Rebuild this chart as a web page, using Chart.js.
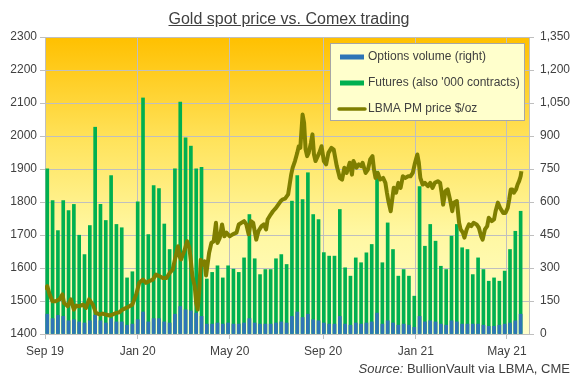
<!DOCTYPE html>
<html>
<head>
<meta charset="utf-8">
<script src="https://cdn.jsdelivr.net/npm/chart.js@4.4.0/dist/chart.umd.min.js"></script>
<style>
  html, body { margin: 0; padding: 0; background: #fff; }
  #wrap { position: relative; width: 578px; height: 385px; font-family: "Liberation Sans", Arial, sans-serif; }
  #chart { position: absolute; left: 0; top: 0; }
  #title { position: absolute; left: 0; top: 10px; width: 578px; line-height: 18px; text-align: center; font-size: 16px; color: #404040; text-decoration: underline; }
  #source { position: absolute; right: 8px; top: 361px; line-height: 15px; font-size: 13px; color: #404040; }
</style>
</head>
<body>
<div id="wrap">
  <canvas id="chart" width="578" height="385"></canvas>
  <div id="title">Gold spot price vs. Comex trading</div>
  <div id="source"><i>Source:</i> BullionVault via LBMA, CME</div>
</div>
<script>
// x axis is days since 1 Sep 2019
const tickDays = [0, 122, 243, 366, 488, 608];
const tickLabels = ['Sep 19', 'Jan 20', 'May 20', 'Sep 20', 'Jan 21', 'May 21'];

// weekly Comex volume, '000 contracts (one bar per week, first week starts 2 Sep 2019)
const futures = [751, 607, 470, 607, 561, 589, 449, 361, 493, 940,
  589, 516, 720, 498, 483, 255, 283, 601, 1073, 452,
  675, 661, 500, 384, 751, 1054, 892, 854, 751, 758,
  250, 280, 310, 255, 310, 295, 280, 346, 543, 342,
  270, 293, 293, 342, 361, 316, 604, 720, 611, 733,
  543, 520, 370, 354, 354, 566, 301, 263, 346, 324,
  369, 407, 740, 324, 505, 384, 263, 293, 263, 172,
  670, 399, 498, 422, 308, 293, 445, 498, 392, 384,
  270, 346, 293, 240, 255, 240, 286, 384, 467, 558];
const options = [90, 70, 85, 80, 60, 65, 55, 50, 60, 85,
  60, 50, 70, 55, 55, 40, 45, 65, 100, 55,
  70, 70, 55, 50, 90, 125, 110, 105, 95, 80,
  45, 45, 50, 45, 50, 45, 45, 50, 70, 50,
  45, 45, 45, 50, 55, 50, 80, 100, 75, 90,
  65, 60, 50, 45, 45, 80, 45, 40, 50, 45,
  50, 55, 95, 45, 60, 50, 40, 45, 40, 30,
  80, 55, 60, 55, 45, 40, 60, 55, 45, 45,
  45, 45, 40, 35, 35, 40, 45, 50, 60, 90];

// LBMA PM gold price, $/oz
const priceDays = [0, 3, 6, 10, 14, 19, 23, 25, 30, 34, 38, 41, 45, 50, 54, 58, 63, 67, 72, 76,
  80, 85, 89, 94, 98, 102, 107, 111, 115, 120, 124, 129, 133, 137, 142, 146, 151, 155, 160, 164,
  168, 173, 175, 177, 179, 184, 187, 190, 192, 194, 197, 199, 201, 203, 205, 208, 210, 212, 216, 219,
  222, 225, 227, 230, 233, 236, 239, 243, 247, 252, 255, 262, 265, 268, 271, 274, 278, 281, 285, 288,
  291, 293, 297, 300, 304, 307, 310, 313, 316, 320, 322, 324, 326, 329, 332, 334, 336, 339, 341, 343,
  345, 347, 350, 352, 354, 356, 359, 361, 364, 367, 370, 373, 377, 380, 384, 388, 391, 394, 397, 401,
  404, 406, 410, 413, 416, 418, 422, 425, 428, 431, 433, 435, 438, 441, 445, 448, 450, 452, 455, 457,
  459, 462, 465, 468, 471, 474, 478, 481, 484, 487, 490, 492, 494, 497, 500, 504, 507, 510, 513, 517,
  520, 522, 524, 527, 530, 533, 536, 538, 542, 545, 547, 550, 552, 555, 558, 561, 564, 568, 571, 574,
  576, 579, 582, 584, 588, 591, 593, 596, 599, 603, 606, 609, 611, 613, 615, 617, 620, 622, 624, 626, 627];
const priceUsd = [1535, 1545, 1520, 1499, 1499, 1505, 1520, 1494, 1484, 1505, 1474, 1486, 1484, 1489, 1479, 1505, 1489, 1464, 1459, 1462,
  1459, 1456, 1459, 1464, 1466, 1474, 1479, 1484, 1489, 1520, 1555, 1565, 1555, 1560, 1565, 1580, 1575, 1570, 1570, 1585,
  1595, 1646, 1666, 1636, 1626, 1656, 1681, 1661, 1621, 1575, 1545, 1494, 1474, 1530, 1625, 1610, 1620, 1577, 1646, 1676,
  1681, 1737, 1676, 1691, 1732, 1696, 1707, 1696, 1702, 1707, 1732, 1742, 1732, 1702, 1742, 1737, 1686, 1712, 1727, 1732,
  1717, 1747, 1762, 1772, 1782, 1792, 1802, 1808, 1810, 1823, 1853, 1883, 1904, 1924, 1949, 1969, 1964, 2065, 2040, 1959,
  1939, 1949, 1979, 2005, 1944, 1924, 1939, 1949, 1969, 1924, 1914, 1949, 1964, 1959, 1909, 1873, 1868, 1904, 1888, 1919,
  1883, 1924, 1904, 1914, 1909, 1919, 1888, 1898, 1929, 1939, 1898, 1873, 1888, 1868, 1873, 1858, 1828, 1802, 1772, 1808,
  1843, 1828, 1858, 1843, 1878, 1873, 1878, 1878, 1888, 1919, 1944, 1919, 1873, 1853, 1858, 1848, 1858, 1843, 1858, 1863,
  1858, 1828, 1792, 1833, 1838, 1808, 1772, 1798, 1803, 1737, 1717, 1707, 1692, 1717, 1732, 1727, 1737, 1732, 1722, 1696,
  1686, 1717, 1727, 1752, 1742, 1747, 1772, 1798, 1782, 1767, 1767, 1782, 1808, 1838, 1838, 1828, 1838, 1853, 1863, 1878, 1893];

const FONT = "'Liberation Sans', Arial, sans-serif";
const TEXT = '#404040';
const GRID = '#BFBFBF';

const weekDays = futures.map((_, i) => 3 + 7 * i);

const plotBackground = {
  id: 'plotBackground',
  beforeDraw(chart) {
    const { ctx, chartArea: a } = chart;
    const g = ctx.createLinearGradient(0, a.top, 0, a.bottom);
    g.addColorStop(0, '#FFC000');
    g.addColorStop(0.35, '#FFE35C');
    g.addColorStop(0.65, '#FFF7A0');
    g.addColorStop(1, '#FFFFCC');
    ctx.save();
    ctx.fillStyle = g;
    ctx.fillRect(a.left, a.top, a.right - a.left, a.bottom - a.top);
    ctx.restore();
  }
};

const boxLegend = {
  id: 'boxLegend',
  afterDraw(chart) {
    const ctx = chart.ctx;
    const ds = chart.data.datasets;
    const items = [ds[1], ds[2], ds[0]];
    ctx.save();
    ctx.fillStyle = '#FFFFCC';
    ctx.strokeStyle = '#A6A6A6';
    ctx.lineWidth = 1;
    ctx.fillRect(330, 43, 194, 77);
    ctx.strokeRect(330.5, 43.5, 194, 77);
    ctx.font = '12px ' + FONT;
    ctx.textBaseline = 'middle';
    items.forEach((d, i) => {
      const y = 57 + i * 26;
      if (d.type === 'line') {
        ctx.strokeStyle = d.borderColor;
        ctx.lineWidth = 3.5;
        ctx.lineCap = 'round';
        ctx.beginPath();
        ctx.moveTo(339, y);
        ctx.lineTo(365, y);
        ctx.stroke();
      } else {
        ctx.fillStyle = d.backgroundColor;
        ctx.fillRect(340, y - 2.5, 24, 5);
      }
      ctx.fillStyle = TEXT;
      ctx.fillText(d.label, 368, y);
    });
    ctx.restore();
  }
};

const tickFont = { family: FONT, size: 12 };

new Chart(document.getElementById('chart'), {
  type: 'bar',
  data: {
    datasets: [
      {
        type: 'line',
        label: 'LBMA PM price $/oz',
        data: priceDays.map((d, i) => ({ x: d, y: priceUsd[i] })),
        yAxisID: 'yPrice',
        borderColor: '#7F7F00',
        borderWidth: 4,
        borderJoinStyle: 'round',
        pointRadius: 0,
        tension: 0,
        order: 0
      },
      {
        label: 'Options volume (right)',
        data: weekDays.map((d, i) => ({ x: d, y: options[i] })),
        yAxisID: 'yVol',
        backgroundColor: '#2E75B6',
        barThickness: 3,
        grouped: false,
        order: 1
      },
      {
        label: "Futures (also '000 contracts)",
        data: weekDays.map((d, i) => ({ x: d, y: futures[i] })),
        yAxisID: 'yVol',
        backgroundColor: '#00B050',
        barThickness: 3,
        grouped: false,
        order: 2
      }
    ]
  },
  options: {
    responsive: false,
    animation: false,
    layout: { padding: { top: 37, left: 0, right: 0, bottom: 0 } },
    plugins: { legend: { display: false }, tooltip: { enabled: false } },
    scales: {
      x: {
        type: 'linear',
        min: 0,
        max: 637,
        offset: false,
        afterBuildTicks: (s) => { s.ticks = tickDays.map(v => ({ value: v })); },
        afterFit: (s) => { s.height = 51; },
        ticks: {
          callback: (v) => tickLabels[tickDays.indexOf(v)],
          font: tickFont, color: TEXT, padding: 5, maxRotation: 0, autoSkip: false
        },
        grid: { color: GRID, tickLength: 5, offset: false },
        border: { color: GRID }
      },
      yPrice: {
        position: 'left',
        min: 1400,
        max: 2300,
        afterFit: (s) => { s.width = 45; },
        ticks: { stepSize: 100, callback: (v) => String(v), font: tickFont, color: TEXT, padding: 3 },
        grid: { color: GRID, tickLength: 5 },
        border: { color: GRID }
      },
      yVol: {
        position: 'right',
        min: 0,
        max: 1350,
        afterFit: (s) => { s.width = 49; },
        ticks: { stepSize: 150, callback: (v) => v.toLocaleString('en-US'), font: tickFont, color: TEXT, padding: 6 },
        grid: { drawOnChartArea: false, color: GRID, tickLength: 5 },
        border: { color: GRID }
      }
    }
  },
  plugins: [plotBackground, boxLegend]
});
</script>
</body>
</html>
